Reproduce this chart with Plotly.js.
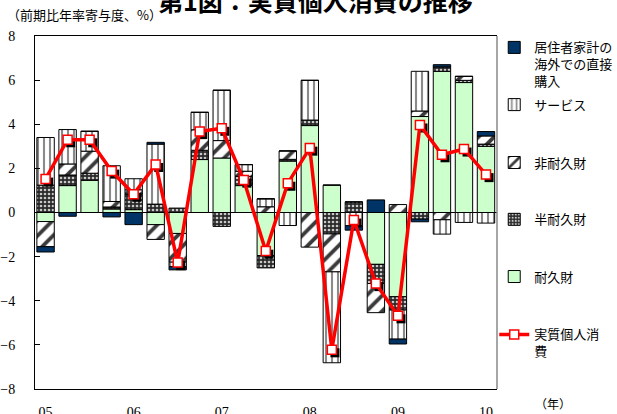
<!DOCTYPE html>
<html>
<head>
<meta charset="utf-8">
<script src="https://cdn.plot.ly/plotly-3.0.1.min.js"></script>
<style>
html,body{margin:0;padding:0;background:#fff;}
#chart{width:617px;height:414px;}
</style>
</head>
<body>
<div id="chart"></div>
<script>
// Quarters 2005Q1 .. 2010Q1
const quarters = ['05Q1','05Q2','05Q3','05Q4','06Q1','06Q2','06Q3','06Q4','07Q1','07Q2','07Q3','07Q4',
                  '08Q1','08Q2','08Q3','08Q4','09Q1','09Q2','09Q3','09Q4','10Q1'];
const yearTickVals = ['05Q1','06Q1','07Q1','08Q1','09Q1','10Q1'];
const yearTickText = ['05','06','07','08','09','10'];

// Contributions (% points)
const durable     = [-0.41,1.22,1.46,0.16,0.13,-0.55,-0.95,2.40,2.47,1.22,-1.95,2.33,3.94,1.24,0,-2.35,-3.82,4.35,6.40,5.89,3.00];
const semiDurable = [1.24,0.48,0.32,0.09,0.70,0.38,0.20,0.42,-0.63,0.42,-0.56,0.08,0.25,-0.97,0.48,-0.87,-0.60,-0.30,0.20,0.10,0.10];
const nonDurable  = [-1.14,0.50,1.00,0.25,0.20,-0.67,-1.30,0.93,0.79,0.23,0.26,0.38,-1.57,-1.72,0,-1.32,0.36,0.25,-0.33,0.18,0.37];
const services    = [2.16,1.56,0.90,1.62,0.50,2.72,-0.20,0.79,2.28,0.30,0.36,-0.59,1.80,-4.12,-0.60,0,-1.32,1.80,-0.65,-0.45,-0.48];
const abroad      = [-0.24,-0.17,0,-0.20,-0.55,0.08,-0.15,0,0,0,0,0,0,0,-0.20,0.57,-0.22,-0.12,0.10,0,0.20];
const realConsumption = [1.52,3.30,3.30,1.88,0.83,2.18,-2.27,3.67,3.82,1.47,-1.75,1.33,2.92,-6.22,-0.34,-3.22,-4.68,3.97,2.62,2.88,1.72];

const names = {
  abroad: '居住者家計の<br>海外での直接<br>購入',
  services: 'サービス',
  nonDurable: '非耐久財',
  semiDurable: '半耐久財',
  durable: '耐久財',
  total: '実質個人消<br>費'
};

const JP = '"Noto Sans CJK JP", "Noto Sans", sans-serif';
const SERIF = '"Liberation Serif", "DejaVu Serif", serif';
const outline = {color:'#000', width:1};

const traces = [
  {type:'bar', x:quarters, y:durable, name:names.durable, legend:'legend5',
   marker:{color:'#CCFFCC', line:outline}},
  {type:'bar', x:quarters, y:semiDurable, name:names.semiDurable, legend:'legend4',
   marker:{color:'#333', line:outline, pattern:{shape:'.', bgcolor:'#2a2a2a', fgcolor:'#c8c8c8', size:4, solidity:0.35}}},
  {type:'bar', x:quarters, y:nonDurable, name:names.nonDurable, legend:'legend3',
   marker:{color:'#fff', line:outline, pattern:{shape:'/', bgcolor:'#ffffff', fgcolor:'#3a3a3a', size:11, solidity:0.35}}},
  {type:'bar', x:quarters, y:services, name:names.services, legend:'legend2',
   marker:{color:'#fff', line:outline, pattern:{shape:'|', bgcolor:'#ffffff', fgcolor:'#8a8a8a', size:6, solidity:0.35}}},
  {type:'bar', x:quarters, y:abroad, name:names.abroad, legend:'legend',
   marker:{color:'#003366', line:outline}},
  // marker shadow
  {type:'scatter', mode:'markers', x:quarters, y:realConsumption, xaxis:'x2', yaxis:'y2',
   showlegend:false, hoverinfo:'skip',
   marker:{symbol:'square', size:9, color:'#000'}},
  {type:'scatter', mode:'lines+markers', x:quarters, y:realConsumption, xaxis:'x3', yaxis:'y3',
   name:names.total, legend:'legend6',
   line:{color:'#FF0000', width:3.5},
   marker:{symbol:'square', size:9, color:'#fff', line:{color:'#FF0000', width:1.5}}}
];

const xr = [-0.48, 20.5];
const yr = [-8, 8];
const dx = 0.14, dy = 0.14;

const legendBase = {x:0.994, xanchor:'left', yanchor:'top', bgcolor:'rgba(0,0,0,0)', borderwidth:0,
  font:{family:JP, size:13, color:'#000'}, valign:'top', itemwidth:30, itemclick:false, itemdoubleclick:false};
function lg(y){ return Object.assign({}, legendBase, {y:y}); }

const layout = {
  width:617, height:414,
  margin:{l:35, r:120, t:36, b:25, autoexpand:false},
  paper_bgcolor:'#fff', plot_bgcolor:'#fff',
  barmode:'relative', bargap:0.21,
  showlegend:true,
  font:{family:SERIF, size:14, color:'#000'},
  xaxis:{type:'category', categoryorder:'array', categoryarray:quarters, range:xr,
    tickvals:yearTickVals, ticktext:yearTickText, ticks:'', ticklabelstandoff:10,
    showline:true, linecolor:'#000', linewidth:1, mirror:true, showgrid:false, zeroline:false,
    tickfont:{family:SERIF, size:14, color:'#000'}, fixedrange:true},
  yaxis:{range:yr, dtick:2, ticks:'inside', ticklen:5, tickcolor:'#000', tickwidth:1,
    ticklabelstandoff:16,
    showline:true, linecolor:'#000', linewidth:1, mirror:false, showgrid:false,
    zeroline:true, zerolinecolor:'#000', zerolinewidth:1,
    tickfont:{family:SERIF, size:14, color:'#000'}, fixedrange:true},
  xaxis2:{type:'category', categoryorder:'array', categoryarray:quarters, overlaying:'x', anchor:'y2',
    range:[xr[0]-dx, xr[1]-dx], visible:false, fixedrange:true},
  yaxis2:{overlaying:'y', anchor:'x2', range:[yr[0]+dy, yr[1]+dy], visible:false, fixedrange:true},
  xaxis3:{type:'category', categoryorder:'array', categoryarray:quarters, overlaying:'x', anchor:'y3',
    range:xr, visible:false, fixedrange:true},
  yaxis3:{overlaying:'y', anchor:'x3', range:yr, visible:false, fixedrange:true},
  legend: lg(1.010),
  legend2: lg(0.848),
  legend3: lg(0.684),
  legend4: lg(0.523),
  legend5: lg(0.361),
  legend6: lg(0.197),
  shapes:[
    {type:'line', xref:'paper', yref:'paper', x0:1, x1:1, y0:0, y1:1, line:{color:'#888', width:1.5}}
  ],
  annotations:[
    {text:'<b>第1図：実質個人消費の推移</b>', xref:'paper', yref:'paper', x:0.608, y:1.102,
     xanchor:'center', yanchor:'middle', showarrow:false, font:{family:JP, size:25, color:'#000'}},
    {text:'（前期比年率寄与度、%）', xref:'paper', yref:'paper', x:-0.065, y:1.062,
     xanchor:'left', yanchor:'middle', showarrow:false, font:{family:JP, size:13, color:'#000'}},
    {text:'（年）', xref:'paper', yref:'paper', x:1.121, y:-0.040,
     xanchor:'center', yanchor:'middle', showarrow:false, font:{family:JP, size:12, color:'#000'}}
  ]
};

Plotly.newPlot('chart', traces, layout, {displayModeBar:false, staticPlot:true});
</script>
</body>
</html>
